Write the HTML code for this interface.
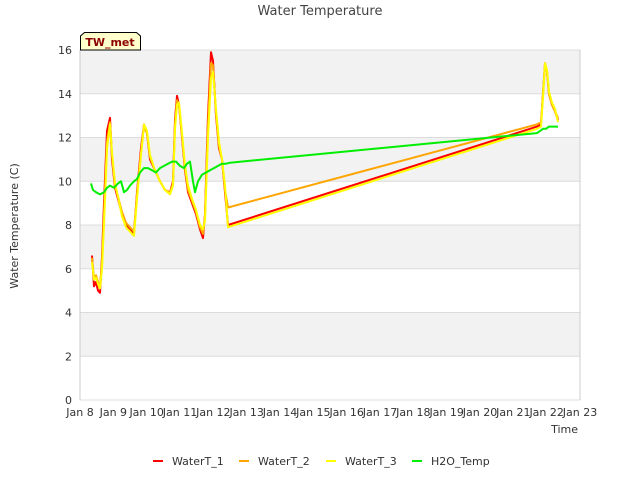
<!DOCTYPE html>
<html><head><meta charset="utf-8"><style>
body{margin:0;background:#fff;}
svg text{font-family:"DejaVu Sans","Liberation Sans",sans-serif;}
</style></head><body>
<svg id="chart" width="640" height="480" xmlns="http://www.w3.org/2000/svg">
<rect x="0" y="0" width="640" height="480" fill="#fff"/>
<g id="bands"></g>
<g id="grid"></g>
<g id="xticks"></g>
<g id="yticks"></g>
<g id="series"></g>
<text x="320" y="15" text-anchor="middle" font-size="13" fill="#444">Water Temperature</text>
<text x="578" y="433" text-anchor="end" font-size="11" fill="#333">Time</text>
<text transform="translate(18,226) rotate(-90)" text-anchor="middle" font-size="11" fill="#333">Water Temperature (C)</text>
<g>
<path d="M80.5,50 L80.5,36 L84.5,32.5 L136.5,32.5 L140.5,36 L140.5,50 Z" fill="#ffffcc" stroke="#000" stroke-width="1"/>
<text x="110" y="46" text-anchor="middle" font-size="11" font-weight="bold" fill="#8b0000">TW_met</text>
</g>
<g id="legend"></g>
</svg>
<script>
const xTickLabels=["Jan 8","Jan 9","Jan 10","Jan 11","Jan 12","Jan 13","Jan 14","Jan 15","Jan 16","Jan 17","Jan 18","Jan 19","Jan 20","Jan 21","Jan 22","Jan 23"];
const yTickLabels=[0,2,4,6,8,10,12,14,16];
const seriesNames=["WaterT_1","WaterT_2","WaterT_3","H2O_Temp"];
const seriesColors=["#ff0000","#ffa500","#ffff00","#00ee00"];
const tempDays=[0.36,0.42,0.48,0.54,0.6,0.66,0.72,0.81,0.9,0.96,1.05,1.14,1.26,1.38,1.5,1.62,1.71,1.83,1.92,2.01,2.1,2.25,2.4,2.55,2.7,2.79,2.85,2.91,2.97,3.06,3.15,3.24,3.36,3.48,3.6,3.69,3.75,3.84,3.93,3.99,4.08,4.17,4.26,4.35,4.44,13.71,13.83,13.89,13.95,14.01,14.07,14.16,14.25,14.34];
const waterT1=[6.6,5.2,5.4,5.0,4.9,6.5,9.0,12.3,12.9,11.0,9.7,9.2,8.5,8.0,7.8,7.6,9.5,11.5,12.6,12.2,11.0,10.5,10.0,9.6,9.5,10.0,12.8,13.9,13.5,12.0,10.5,9.5,9.0,8.5,7.8,7.4,8.5,13.0,15.9,15.5,13.0,11.5,11.0,9.5,8.0,12.5,12.6,14.0,15.4,15.0,14.0,13.5,13.2,12.8];
const waterT2=[6.5,5.6,5.7,5.4,5.2,6.3,8.5,11.8,12.7,11.2,9.8,9.3,8.6,8.1,7.9,7.7,9.4,11.3,12.5,12.2,11.1,10.5,10.0,9.6,9.5,9.9,12.6,13.7,13.5,12.1,10.6,9.6,9.1,8.6,7.9,7.6,8.4,12.6,15.4,15.3,13.1,11.6,11.0,9.6,8.8,12.6,12.7,14.0,15.3,15.0,14.0,13.5,13.2,12.9];
const waterT3=[6.3,5.5,5.6,5.3,5.1,6.0,8.0,11.5,12.6,11.3,9.9,9.3,8.4,7.9,7.7,7.5,9.2,11.2,12.6,12.3,11.2,10.5,10.0,9.6,9.4,9.8,12.4,13.5,13.6,12.2,10.7,9.8,9.2,8.7,8.0,7.8,8.2,12.0,14.7,15.0,13.3,11.8,11.0,9.8,7.9,12.4,12.5,13.8,15.4,15.1,14.1,13.6,13.3,12.7];
const h2oDays=[0.33,0.39,0.48,0.6,0.72,0.81,0.9,1.02,1.14,1.23,1.32,1.41,1.5,1.62,1.71,1.8,1.92,2.04,2.16,2.28,2.4,2.52,2.64,2.76,2.88,3.0,3.12,3.21,3.3,3.39,3.45,3.54,3.66,3.78,3.9,4.02,4.14,4.26,4.38,4.5,13.71,13.8,13.89,13.98,14.07,14.16,14.25,14.34];
const h2oTemp=[9.9,9.6,9.5,9.4,9.5,9.7,9.8,9.7,9.9,10.0,9.5,9.6,9.8,10.0,10.1,10.4,10.6,10.6,10.5,10.4,10.6,10.7,10.8,10.9,10.9,10.7,10.6,10.8,10.9,10.0,9.5,10.0,10.3,10.4,10.5,10.6,10.7,10.8,10.8,10.85,12.2,12.3,12.4,12.4,12.5,12.5,12.5,12.5];

const X0=80,X1=580,Y0=400,Y1=50;
const xs=d=>X0+d*(X1-X0)/15;
const ys=v=>Y0-v*(Y0-Y1)/16;
const NS="http://www.w3.org/2000/svg";
function mk(tag,attrs,parent){const e=document.createElementNS(NS,tag);for(const k in attrs)e.setAttribute(k,attrs[k]);parent.appendChild(e);return e;}
const bands=document.getElementById('bands'),grid=document.getElementById('grid');
for(let v=0;v<16;v+=2){
  const r=mk('rect',{x:X0,y:ys(v+2),width:X1-X0,height:ys(v)-ys(v+2),fill:(v/2)%2===1?'#f2f2f2':'#ffffff'},bands);
  
  
}
const yt=document.getElementById('yticks');
yTickLabels.forEach(v=>{
  const l=mk('line',{x1:X0,x2:X1,y1:ys(v),y2:ys(v),stroke:'#dcdcdc','stroke-width':1},grid);
  
  
  const t=mk('text',{x:X0-8,y:ys(v)+4,'text-anchor':'end','font-size':11,fill:'#333'},yt);
  t.textContent=v;
  
  
});
const ax=mk('line',{x1:X0,x2:X0,y1:Y1,y2:Y0,stroke:'#ccc'},grid);


const ax2=mk('line',{x1:X1,x2:X1,y1:Y1,y2:Y0,stroke:'#ccc'},grid);


const xt=document.getElementById('xticks');
xTickLabels.forEach((lab,i)=>{
  const t=mk('text',{x:xs(i),y:Y0+16,'text-anchor':'middle','font-size':11,fill:'#333'},xt);
  t.textContent=lab;
  
  
});
const sg=document.getElementById('series');
function line(days,vals,color,name){
  const pts=days.map((d,i)=>xs(d).toFixed(1)+','+ys(vals[i]).toFixed(1)).join(' ');
  const p=mk('polyline',{points:pts,fill:'none',stroke:color,'stroke-width':2,'stroke-linejoin':'round'},sg);
  
  
}
line(tempDays,waterT1,seriesColors[0],'watert-1-line');
line(tempDays,waterT2,seriesColors[1],'watert-2-line');
line(tempDays,waterT3,seriesColors[2],'watert-3-line');
line(h2oDays,h2oTemp,seriesColors[3],'h2o-temp-line');
const lg=document.getElementById('legend');
const lx=[153,239,326,412];
seriesNames.forEach((n,i)=>{
  const g=mk('g',{},lg);
  
  
  mk('line',{x1:lx[i],x2:lx[i]+10,y1:461,y2:461,stroke:seriesColors[i],'stroke-width':2},g);
  const t=mk('text',{x:lx[i]+19,y:465,'font-size':11,fill:'#333'},g);
  t.textContent=n;
});
</script>
</body></html>
